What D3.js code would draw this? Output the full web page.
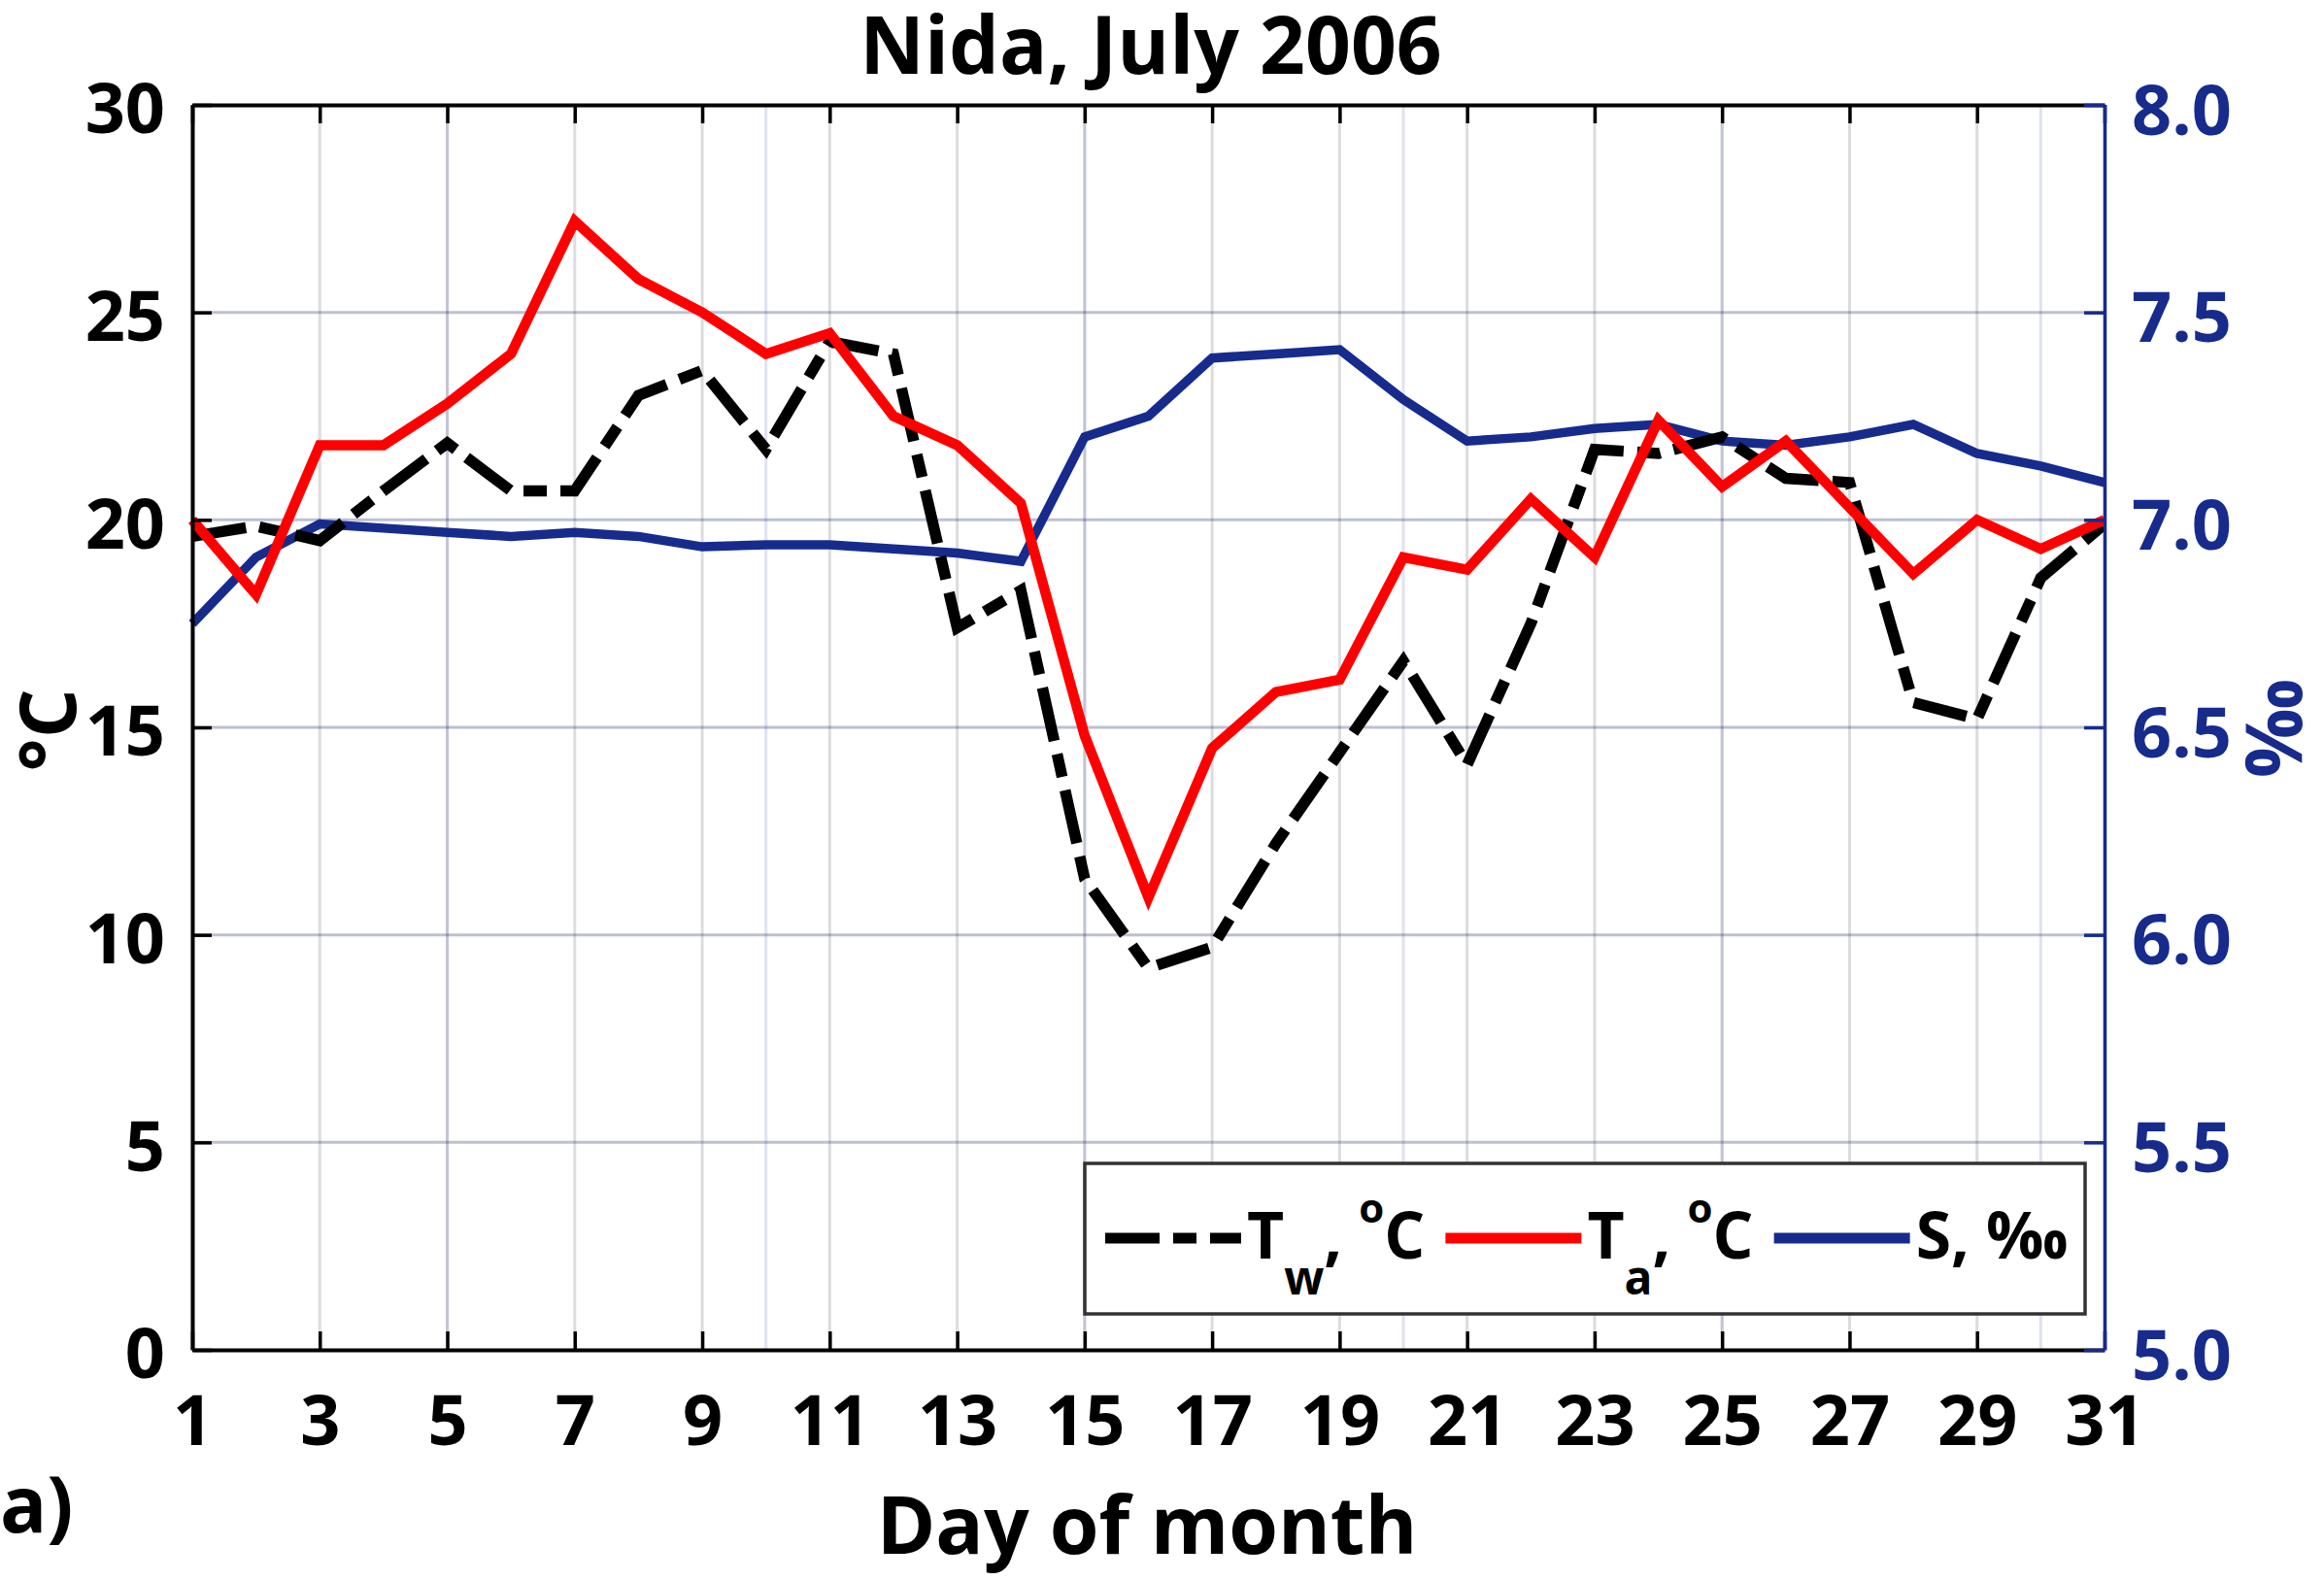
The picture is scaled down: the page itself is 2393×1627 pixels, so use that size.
<!DOCTYPE html>
<html>
<head>
<meta charset="utf-8">
<script src="https://cdn.jsdelivr.net/npm/d3@7"></script>
<style>
  body { margin: 0; background: #fff; }
  text { font-family: "Open Sans", "DejaVu Sans", sans-serif; font-weight: bold; }
</style>
</head>
<body>
<script>
(function(){

//data
var days = [1, 2, 3, 4, 5, 6, 7, 8, 9, 10, 11, 12, 13, 14, 15, 16, 17, 18, 19, 20, 21, 22, 23, 24, 25, 26, 27, 28, 29, 30, 31];
var waterTemp = [19.6, 19.85, 19.5, 20.7, 21.85, 20.7, 20.7, 23.0, 23.6, 21.7, 24.3, 24.0, 17.4, 18.3, 11.35, 9.2, 9.7, 12.2, 14.4, 16.6, 14.1, 17.5, 21.7, 21.6, 22.0, 21.0, 20.9, 15.6, 15.2, 18.6, 19.9];
var airTemp = [20.0, 18.2, 21.8, 21.8, 22.8, 24.0, 27.2, 25.8, 25.0, 24.0, 24.5, 22.5, 21.8, 20.4, 14.8, 10.9, 14.5, 15.85, 16.15, 19.1, 18.8, 20.5, 19.1, 22.4, 20.8, 21.9, 20.3, 18.7, 20.0, 19.3, 20.0];
var salinity = [6.75, 6.91, 6.99, 6.98, 6.97, 6.96, 6.97, 6.96, 6.935, 6.94, 6.94, 6.93, 6.92, 6.90, 7.20, 7.25, 7.39, 7.40, 7.41, 7.29, 7.19, 7.20, 7.22, 7.23, 7.19, 7.18, 7.20, 7.23, 7.16, 7.13, 7.09];

var xTicks = [1, 3, 5, 7, 9, 11, 13, 15, 17, 19, 21, 23, 25, 27, 29, 31];
var xMajorGrid = [5, 10, 15, 20, 25, 30];
var yTicks = [0, 5, 10, 15, 20, 25, 30];
var yRightTicks = [5.0, 5.5, 6.0, 6.5, 7.0, 7.5, 8.0];

var titleText = "Nida, July 2006";
var xLabel = "Day of month";
var yLabel = "°C";
var yRightLabel = "‰";
var panelTag = "a)";

//legend pieces: plain text, subscript, superscript
var legendParts = [
    [["t", "T"], ["sub", "w"], ["t", ", "], ["sup", "o"], ["t", "C"]],
    [["t", "T"], ["sub", "a"], ["t", ", "], ["sup", "o"], ["t", "C"]],
    [["t", "S, ‰"]]
];

var blue = "#172b8d";
var dashDot = "56,14,24,14";

window.onload = drawChart();

function drawChart(){

    var width = 2393,
        height = 1627;
    var left = 198, right = 2167, top = 108, bottom = 1390;

    var svg = d3.select("body")
        .append("svg")
        .attr("width", width)
        .attr("height", height);

    var x = d3.scaleLinear().domain([1, 31]).range([left, right]);
    var y = d3.scaleLinear().domain([0, 30]).range([bottom, top]);
    var yR = d3.scaleLinear().domain([5, 8]).range([bottom, top]);

    //grids (two overlapping axes, so some lines get darker)
    var grid = svg.append("g");
    grid.selectAll(".gx").data(xTicks).enter().append("line")
        .attr("x1", function(d){ return x(d); }).attr("x2", function(d){ return x(d); })
        .attr("y1", top).attr("y2", bottom)
        .attr("stroke", "rgba(40,40,50,0.16)").attr("stroke-width", 3);
    grid.selectAll(".gxm").data(xMajorGrid).enter().append("line")
        .attr("x1", function(d){ return x(d); }).attr("x2", function(d){ return x(d); })
        .attr("y1", top).attr("y2", bottom)
        .attr("stroke", "rgba(30,50,150,0.14)").attr("stroke-width", 3);
    grid.selectAll(".gy").data(yTicks.slice(1, -1)).enter().append("line")
        .attr("x1", left).attr("x2", right)
        .attr("y1", function(d){ return y(d); }).attr("y2", function(d){ return y(d); })
        .attr("stroke", "rgba(40,40,50,0.16)").attr("stroke-width", 3);
    grid.selectAll(".gyr").data(yRightTicks.slice(1, -1)).enter().append("line")
        .attr("x1", left).attr("x2", right)
        .attr("y1", function(d){ return yR(d); }).attr("y2", function(d){ return yR(d); })
        .attr("stroke", "rgba(30,50,150,0.16)").attr("stroke-width", 3);

    //series
    var lineT = d3.line().x(function(d, i){ return x(days[i]); }).y(function(d){ return y(d); });
    var lineS = d3.line().x(function(d, i){ return x(days[i]); }).y(function(d){ return yR(d); });

    svg.append("path").datum(salinity)
        .attr("d", lineS).attr("fill", "none")
        .attr("stroke", blue).attr("stroke-width", 9.5)
        .attr("stroke-linejoin", "miter");
    svg.append("path").datum(waterTemp)
        .attr("d", lineT).attr("fill", "none")
        .attr("stroke", "#000").attr("stroke-width", 11.5)
        .attr("stroke-dasharray", dashDot)
        .attr("stroke-linejoin", "miter");
    svg.append("path").datum(airTemp)
        .attr("d", lineT).attr("fill", "none")
        .attr("stroke", "#ff0000").attr("stroke-width", 10.5)
        .attr("stroke-linejoin", "miter");

    //axes
    var gBottom = svg.append("g")
        .attr("transform", "translate(0," + bottom + ")")
        .call(d3.axisBottom(x).tickValues(xTicks).tickSize(-19).tickSizeOuter(0).tickPadding(47));
    var gTop = svg.append("g")
        .attr("transform", "translate(0," + top + ")")
        .call(d3.axisTop(x).tickValues(xTicks).tickSize(-19).tickSizeOuter(0).tickFormat(""));
    var gLeft = svg.append("g")
        .attr("transform", "translate(" + left + ",0)")
        .call(d3.axisLeft(y).tickValues(yTicks).tickSize(-20).tickSizeOuter(0).tickPadding(28));
    var gRight = svg.append("g")
        .attr("transform", "translate(" + right + ",0)")
        .call(d3.axisRight(yR).tickValues(yRightTicks).tickSize(-21).tickSizeOuter(0).tickPadding(28).tickFormat(d3.format(".1f")));

    [gBottom, gTop, gLeft].forEach(function(g){
        g.select(".domain").attr("stroke", "#000").attr("stroke-width", 4);
        g.selectAll(".tick line").attr("stroke", "#000").attr("stroke-width", 3.5);
        g.selectAll(".tick text").attr("fill", "#000").style("font-size", "72px");
    });
    gLeft.selectAll(".tick text").attr("dy", "0.4em");
    gRight.select(".domain").attr("stroke", blue).attr("stroke-width", 3.5);
    gRight.selectAll(".tick line").attr("stroke", blue).attr("stroke-width", 3.5);
    gRight.selectAll(".tick text").attr("fill", blue).attr("dy", "0.42em").style("font-size", "72px");

    //labels
    svg.append("text").attr("x", 1185).attr("y", 76)
        .attr("text-anchor", "middle").style("font-size", "82px")
        .text(titleText);
    svg.append("text").attr("x", 1181).attr("y", 1600)
        .attr("text-anchor", "middle").style("font-size", "82px")
        .text(xLabel);
    svg.append("text").attr("transform", "translate(78,752) rotate(-90)")
        .attr("text-anchor", "middle").style("font-size", "80px")
        .text(yLabel);
    svg.append("text").attr("transform", "translate(2370,750) rotate(-90)")
        .attr("text-anchor", "middle").style("font-size", "80px")
        .attr("fill", blue)
        .text(yRightLabel);
    svg.append("text").attr("x", 0).attr("y", 1578)
        .style("font-size", "80px")
        .text(panelTag);

    //legend
    var leg = svg.append("g");
    leg.append("rect")
        .attr("x", 1117).attr("y", 1198).attr("width", 1030).attr("height", 155)
        .attr("fill", "#fff").attr("stroke", "#333").attr("stroke-width", 3.5);

    var legStyles = [
        {stroke: "#000", w: 11, dash: dashDot},
        {stroke: "#ff0000", w: 11, dash: null},
        {stroke: blue, w: 11, dash: null}
    ];
    var cursor = 1138, lineY = 1275, baseY = 1296;
    legendParts.forEach(function(parts, i){
        var st = legStyles[i];
        leg.append("line")
            .attr("x1", cursor).attr("x2", cursor + 140)
            .attr("y1", lineY).attr("y2", lineY)
            .attr("stroke", st.stroke).attr("stroke-width", st.w)
            .attr("stroke-dasharray", st.dash);
        var t = leg.append("text").attr("x", cursor + 146).attr("y", baseY)
            .style("font-size", "66px");
        var shift = 0;
        parts.forEach(function(p){
            var want = p[0] == "sub" ? 37 : (p[0] == "sup" ? -37 : 0);
            var sp = t.append("tspan").attr("dy", want - shift).text(p[1]);
            if (p[0] == "sub") sp.style("font-size", "48px");
            if (p[0] == "sup") sp.style("font-size", "42px");
            shift = want;
        });
        cursor = cursor + 146 + t.node().getComputedTextLength() + 21;
    });
};

})();
</script>
</body>
</html>
